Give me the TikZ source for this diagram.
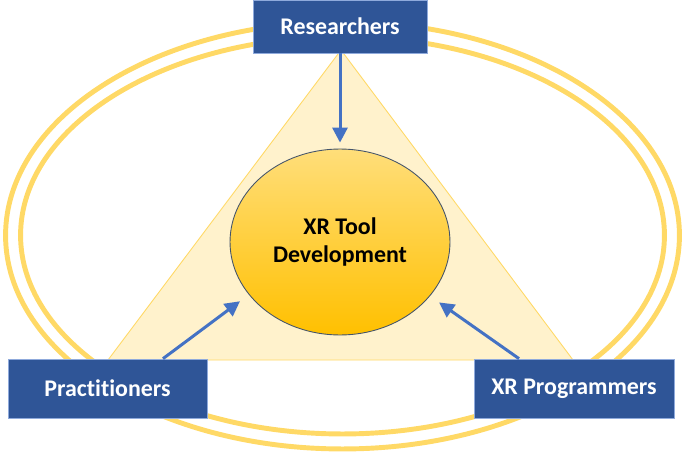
\documentclass[tikz,border=0pt]{standalone}
\usepackage{fontspec}
\setmainfont{Carlito}[Ligatures={NoCommon}]
\usetikzlibrary{shapes.geometric, positioning, arrows.meta}

\definecolor{roleblue}{HTML}{2F5597}
\definecolor{roleedge}{HTML}{8FAADC}
\definecolor{arrowblue}{HTML}{4472C4}
\definecolor{ringgold}{HTML}{FFD966}
\definecolor{trifill}{HTML}{FFF2CC}
\definecolor{coretop}{HTML}{FFDE7A}
\definecolor{corebot}{HTML}{FFC000}
\definecolor{coreedge}{HTML}{44546A}

\begin{document}
\begin{tikzpicture}[x=0.02cm, y=-0.02cm]
    \tikzstyle{role} = [rectangle,minimum height=1.18cm,text centered,draw=roleedge,line width=0.4pt,fill=roleblue,text=white,font=\fontsize{13.6}{15.5}\selectfont\bfseries]
    \tikzstyle{core} = [ellipse,minimum width=4.4cm,minimum height=3.72cm,align=center,draw=coreedge,line width=0.5pt,top color=coretop,bottom color=corebot,font=\fontsize{13.6}{15.5}\selectfont\bfseries]
    \tikzstyle{ring} = [draw=ringgold,line width=2.8pt]
    \tikzstyle{flow} = [draw=arrowblue,line width=1.7pt,-{Triangle[length=0.3cm,width=0.3cm]}]

    \useasboundingbox (0,0) rectangle (685,456);

    % outer double ring
    \draw [ring] (342.5,235.4) ellipse [x radius=6.74cm, y radius=4.272cm];
    \draw [ring] (342.5,235.3) ellipse [x radius=6.44cm, y radius=3.974cm];

    % triangle behind the core
    \filldraw [fill=trifill,draw=ringgold,line width=0.5pt] (341,50) -- (573,360) -- (108,360) -- cycle;

    \node (dev) [core] at (340,242) {XR Tool\\Development};

    \node (res) [role, minimum width=3.48cm, minimum height=1.06cm] at (340,26.5) {Researchers};
    \node (prac) [role, minimum width=3.98cm] at (107.5,388.5) {Practitioners};
    \node (prog) [role, minimum width=4cm] at (574,388.5) {XR Programmers};

    \draw [flow, shorten >=0.12cm] (res.south) -- (dev.north);
    \draw [flow, shorten >=0.22cm] ([xshift=1.11cm]prac.north) -- (dev.210);
    \draw [flow, shorten >=0.22cm] ([xshift=-1.1cm]prog.north) -- (dev.329);

\end{tikzpicture}
\end{document}
